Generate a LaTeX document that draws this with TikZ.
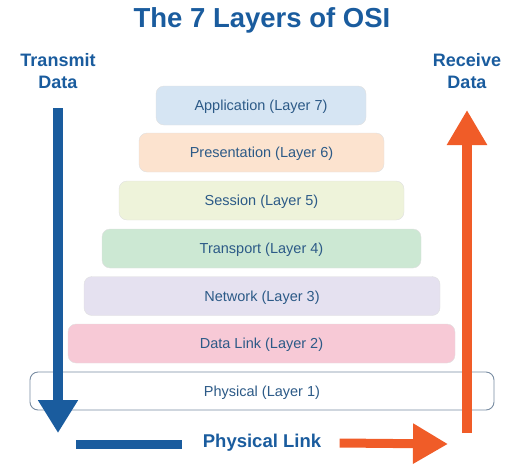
\documentclass[tikz,border=0pt]{standalone}
\usepackage{fontspec}
\setmainfont{Liberation Sans}
\usetikzlibrary{arrows.meta,positioning}
\definecolor{osiblue}{RGB}{26,92,158}
\definecolor{ositext}{RGB}{44,90,135}
\definecolor{osiorange}{RGB}{240,92,40}
\definecolor{appfill}{RGB}{214,229,243}
\definecolor{presfill}{RGB}{252,227,207}
\definecolor{sessfill}{RGB}{238,243,218}
\definecolor{tranfill}{RGB}{204,232,211}
\definecolor{netfill}{RGB}{229,225,240}
\definecolor{linkfill}{RGB}{247,201,214}
\definecolor{physdraw}{RGB}{120,140,162}

\begin{document}
\begin{tikzpicture}[x=1pt,y=-1pt,
    layer/.style={draw=black!12,rounded corners=8pt,minimum height=39pt,
        font=\fontsize{14.5}{16}\selectfont,text=ositext,inner sep=0pt,text depth=0pt},
    side/.style={font=\bfseries\fontsize{18}{22}\selectfont,text=osiblue,align=center},
    send/.style={osiblue,line width=10pt,-{Triangle[length=33pt,width=38pt]}},
    recv/.style={osiorange,line width=10pt,-{Triangle[length=35pt,width=38pt]}}]
\useasboundingbox (0,0) rectangle (514,464);
\node[font=\bfseries\fontsize{27.5}{31}\selectfont,text=osiblue] (title) at (262,20) {The 7 Layers of OSI};
\node[side] (tx) at (58,71) {Transmit\\Data};
\node[side] (rx) at (467,71) {Receive\\Data};
% the stack
\node[layer,fill=appfill,minimum width=210pt] (app) at (261,105.5) {Application (Layer 7)};
\node[layer,fill=presfill,minimum width=245pt] (pres) at (261.5,152.5) {Presentation (Layer 6)};
\node[layer,fill=sessfill,minimum width=285pt] (sess) at (261.5,200.5) {Session (Layer 5)};
\node[layer,fill=tranfill,minimum width=319pt] (tran) at (261.5,248.5) {Transport (Layer 4)};
\node[layer,fill=netfill,minimum width=356pt] (net) at (262,296) {Network (Layer 3)};
\node[layer,fill=linkfill,minimum width=387pt] (link) at (261.5,343.5) {Data Link (Layer 2)};
\node[layer,draw=physdraw,line width=0.9pt,fill=white,minimum width=464pt,minimum height=38pt] (phys) at (262,391) {Physical (Layer 1)};
% arrows
\coordinate (txtop) at (58,108);
\coordinate (txend) at (58,433);
\coordinate (rxstart) at (467,433);
\coordinate (rxend) at (467,110);
\draw[send] (txtop) -- (txend);
\draw[recv] (rxstart) -- (rxend);
\node[font=\bfseries\fontsize{18.5}{22}\selectfont,text=osiblue] (wire) at (262,443) {Physical Link};
\coordinate (barstart) at (76,444);
\coordinate (barend) at (182,444);
\coordinate (wireend) at (448,444);
\draw[osiblue,line width=9pt] (barstart) -- (barend);
\draw[recv,line width=9pt] ([xshift=15pt]wire.east) -- (wireend);
\end{tikzpicture}
\end{document}
